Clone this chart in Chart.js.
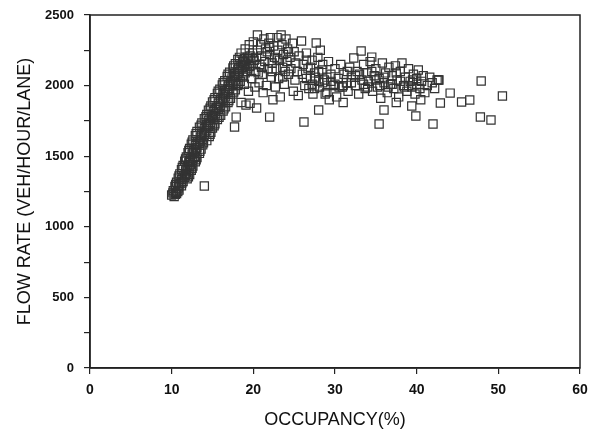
<!DOCTYPE html>
<html>
<head>
<meta charset="utf-8">
<script src="https://cdn.jsdelivr.net/npm/chart.js@4.4.0/dist/chart.umd.min.js"></script>
<style>
  html, body { margin: 0; padding: 0; background: #fff; }
</style>
</head>
<body>
<canvas id="chart" width="589" height="429"></canvas>
<script>
// occupancy (%) / flow rate (veh/hour/lane) in groups

// rising (uncongested) branch
const risingOcc = [
  10.0, 10.3, 10.6, 10.2, 10.5, 10.9, 10.4, 10.8, 11.2, 10.6, 11.0, 11.4,
  10.8, 11.2, 11.6, 11.9, 11.0, 11.5, 11.8, 12.2, 11.2, 11.7, 12.0, 12.4,
  11.4, 11.9, 12.3, 12.6, 11.6, 12.1, 12.5, 12.9, 11.8, 12.3, 12.8, 13.1,
  12.0, 12.5, 12.9, 13.4, 12.2, 12.7, 13.1, 13.6, 12.4, 12.9, 13.4, 13.8,
  12.6, 13.2, 13.7, 14.3, 12.9, 13.5, 14.0, 14.6, 13.1, 13.7, 14.3, 14.8,
  13.4, 14.0, 14.5, 15.0, 13.7, 14.3, 14.8, 15.3, 14.0, 14.5, 15.1, 15.6,
  14.3, 14.9, 15.4, 16.0, 14.5, 15.1, 15.7, 16.3, 14.8, 15.5, 16.0, 16.6,
  15.0, 15.7, 16.3, 16.9, 15.3, 16.0, 16.6, 17.2, 15.6, 16.3, 16.9, 17.5,
  15.9, 16.5, 17.1, 17.8, 16.2, 16.9, 17.5, 18.1, 16.5, 17.2, 17.8, 18.4,
  16.8, 17.4, 18.0, 18.7, 17.1, 17.7, 18.3, 19.0, 17.5, 18.1, 18.7, 19.3,
  17.8, 18.4, 19.0, 18.1, 18.7, 19.4
];
const risingFlow = [
  1225, 1215, 1235, 1255, 1245, 1260, 1285, 1275, 1290, 1315, 1305, 1320,
  1345, 1335, 1350, 1340, 1375, 1365, 1380, 1370, 1405, 1395, 1410, 1400,
  1435, 1425, 1440, 1430, 1465, 1455, 1470, 1460, 1495, 1485, 1500, 1490,
  1525, 1515, 1530, 1520, 1555, 1545, 1560, 1550, 1585, 1575, 1590, 1580,
  1615, 1605, 1620, 1610, 1645, 1635, 1650, 1640, 1675, 1665, 1680, 1670,
  1705, 1695, 1710, 1700, 1735, 1725, 1740, 1730, 1765, 1755, 1770, 1760,
  1795, 1785, 1800, 1790, 1825, 1815, 1830, 1820, 1855, 1845, 1860, 1850,
  1885, 1875, 1890, 1880, 1915, 1905, 1920, 1910, 1945, 1935, 1950, 1940,
  1975, 1965, 1980, 1970, 2005, 1995, 2010, 2000, 2035, 2025, 2040, 2030,
  2065, 2055, 2070, 2060, 2095, 2085, 2100, 2090, 2125, 2115, 2130, 2120,
  2155, 2145, 2160, 2185, 2175, 2190
];

// more points inside the same band
const bandOcc = [
  10.15, 10.45, 10.75, 10.5, 10.85, 11.25, 10.9, 11.3, 11.7, 12.05,
  11.3, 11.75, 12.15, 12.5, 11.7, 12.2, 12.6, 13.0, 12.1, 12.6, 13.0, 13.45,
  12.5, 13.0, 13.5, 13.9, 13.0, 13.6, 14.1, 14.7, 13.6, 14.2, 14.7, 15.2,
  14.2, 14.7, 15.3, 15.8, 14.7, 15.3, 15.9, 16.4, 15.2, 15.8, 16.4, 17.0,
  15.7, 16.3, 17.0, 17.6, 16.3, 17.0, 17.6, 18.2, 16.9, 17.6, 18.2, 18.8,
  17.6, 18.2, 18.9, 19.5, 18.3, 18.9, 19.6
];
const bandFlow = [
  1240, 1230, 1250, 1300, 1290, 1310, 1360, 1350, 1365, 1355,
  1420, 1410, 1425, 1415, 1480, 1470, 1485, 1475, 1540, 1530, 1545, 1535,
  1600, 1590, 1605, 1595, 1660, 1650, 1665, 1655, 1720, 1710, 1725, 1715,
  1780, 1770, 1785, 1775, 1840, 1830, 1845, 1835, 1900, 1890, 1905, 1895,
  1960, 1950, 1965, 1955, 2020, 2010, 2025, 2015, 2080, 2070, 2085, 2075,
  2140, 2130, 2145, 2135, 2200, 2190, 2210
];

// peak around capacity
const peakOcc = [
  18.5, 18.8, 19.0, 19.2, 19.3, 19.5, 19.6, 19.8, 19.9, 20.0, 20.1, 20.3,
  20.5, 20.5, 20.7, 20.8, 20.9, 21.0, 21.1, 21.3, 21.4, 21.5, 21.6, 21.8,
  21.9, 22.0, 22.1, 22.2, 22.3, 22.5, 22.6, 22.7, 22.8, 22.9, 23.0, 23.1,
  23.2, 23.4, 23.5, 23.6, 23.7, 23.8, 24.0, 24.1, 24.2, 24.3, 24.5, 24.6,
  24.8, 24.9, 25.0, 25.1, 25.2, 25.4, 25.5, 25.6, 25.9, 26.0, 26.1, 26.3,
  26.5, 26.7, 27.0, 27.2, 27.5, 27.7, 28.0, 28.2, 28.5,
  18.9, 19.4, 20.2, 21.2, 22.4, 23.3,
  19.7, 20.4, 21.0, 21.7, 22.3, 22.9, 23.6, 24.3, 19.1, 20.6, 22.0, 23.9
];
const peakFlow = [
  2230, 2170, 2260, 2100, 2200, 2290, 2140, 2050, 2230, 2310, 2180, 2100,
  2358, 2250, 2020, 2150, 2290, 2210, 2080, 2330, 2170, 2260, 2000, 2120,
  2300, 2220, 2340, 2060, 2160, 2280, 2200, 1990, 2120, 2340, 2250, 2050,
  2180, 2358, 2290, 2130, 2220, 2010, 2330, 2170, 2260, 2080, 2200, 2120,
  2300, 1960, 2240, 2040, 2160, 2100, 1930, 2210, 2316, 2080, 2150, 2000,
  2230, 2120, 2050, 2180, 1980, 2302, 2100, 2250, 2020,
  2010, 1960, 1990, 1950, 1900, 1920,
  2180, 2200, 2130, 2240, 2100, 2190, 2060, 2240, 2150, 2090, 2270, 2100
];

// congested plateau
const plateauOcc = [
  26.5, 26.8, 27.0, 27.3, 27.6, 27.9, 28.1, 28.4, 28.7, 29.0, 29.2, 29.5,
  29.8, 30.0, 30.2, 30.4, 30.7, 30.9, 31.1, 31.4, 31.6, 31.8, 32.0, 32.3,
  32.5, 32.7, 32.9, 33.2, 33.3, 33.5, 33.7, 33.9, 34.1, 34.3, 34.5, 34.6,
  34.8, 35.0, 35.2, 35.4, 35.6, 35.8, 36.0, 36.2, 36.4, 36.6, 36.8, 37.0,
  37.2, 37.4, 37.6, 37.8, 38.0, 38.2, 38.4, 38.6, 38.8, 39.0, 39.2, 39.4,
  39.6, 39.8, 40.0, 40.2, 40.4, 40.6, 40.8, 41.0, 41.3, 41.6, 41.9, 42.2,
  42.5, 42.7,
  28.0, 29.0, 30.0, 31.0, 32.0, 33.0, 34.0, 35.0, 36.0, 37.0, 38.0, 39.0,
  40.0, 30.5, 31.5, 32.5, 33.5, 34.5, 35.5, 36.5, 37.5, 38.5, 39.5, 29.5,
  28.5, 27.5, 26.5, 27.2, 28.8, 29.3
];
const plateauFlow = [
  2050, 1980, 2130, 1940, 2060, 2200, 1990, 2110, 2040, 1950, 2170, 2080,
  2000, 2120, 1920, 2050, 2150, 1990, 2080, 2020, 1960, 2130, 2060, 2195,
  2000, 2100, 1940, 2245, 2040, 2150, 1980, 2090, 2030, 2170, 2202, 1960,
  2070, 2120, 1990, 2050, 1910, 2160, 2020, 2090, 1950, 2130, 2010, 2070,
  1980, 2140, 2040, 1920, 2100, 2160, 2000, 2060, 1960, 2120, 2030, 1990,
  2080, 1940, 2050, 2110, 1980, 2030, 2070, 1950, 2000, 2060, 2020, 1980,
  2040, 2040,
  2030, 2060, 2010, 2000, 2020, 2080, 1990, 2040, 2060, 2010, 2030, 2000,
  2010, 1990, 2100, 2070, 2010, 2100, 2000, 1990, 2090, 1990, 2040, 2030,
  2150, 2090, 2180, 2010, 1940, 1900
];

// scattered low points
const scatterOcc = [
  14.0, 17.7, 17.9, 19.1, 20.4, 22.0, 18.5, 19.6, 26.2, 28.0, 31.0, 35.4,
  36.0, 37.5, 39.4, 39.9, 40.5, 42.0, 42.9, 42.7, 44.1, 45.5, 46.5, 47.8,
  47.9, 49.1, 50.5
];
const scatterFlow = [
  1289, 1707, 1777, 1862, 1841, 1777, 1880, 1875, 1742, 1827, 1880, 1728,
  1827, 1880, 1855, 1785, 1900, 1728, 1877, 2040, 1947, 1884, 1898, 1778,
  2033, 1756, 1926
];

const xTicks = [0, 10, 20, 30, 40, 50, 60];
const yLabelled = [0, 500, 1000, 1500, 2000, 2500];

function pairs(xs, ys) {
  return xs.map((x, i) => ({x: x, y: ys[i]}));
}

const points = [].concat(
  pairs(risingOcc, risingFlow),
  pairs(bandOcc, bandFlow),
  pairs(peakOcc, peakFlow),
  pairs(plateauOcc, plateauFlow),
  pairs(scatterOcc, scatterFlow)
);

const ink = '#222';
const family = "'Liberation Sans', Arial, sans-serif";

const frame = {
  id: 'frame',
  afterDraw(chart) {
    const ctx = chart.ctx;
    const a = chart.chartArea;
    ctx.save();
    ctx.strokeStyle = ink;
    ctx.lineWidth = 1.5;
    ctx.strokeRect(a.left, a.top, a.right - a.left, a.bottom - a.top);
    ctx.restore();
  }
};

new Chart(document.getElementById('chart'), {
  type: 'scatter',
  data: {
    datasets: [{
      data: points,
      pointStyle: 'rect',
      pointRadius: 5.8,
      pointBorderWidth: 1.2,
      pointBorderColor: '#333',
      pointBackgroundColor: 'rgba(0,0,0,0)'
    }]
  },
  options: {
    responsive: false,
    animation: false,
    layout: {padding: {top: 15, right: 9, left: 0, bottom: 0}},
    plugins: {legend: {display: false}, tooltip: {enabled: false}},
    scales: {
      x: {
        type: 'linear',
        min: 0, max: 60,
        afterBuildTicks: s => { s.ticks = xTicks.map(v => ({value: v})); },
        ticks: {color: '#111', font: {family: family, size: 14, weight: 'bold'}, padding: 8, autoSkip: false, maxRotation: 0},
        grid: {drawOnChartArea: false, tickLength: 6, color: ink, lineWidth: 1.2},
        border: {color: ink, width: 1.5},
        title: {display: true, text: 'OCCUPANCY(%)', color: '#111',
                font: {family: family, size: 18, lineHeight: 1}, padding: {top: 0, bottom: 0}},
        afterFit: s => { s.height = 61; s.paddingLeft = 0; s.paddingRight = 0; }
      },
      y: {
        min: 0, max: 2500,
        ticks: {stepSize: 250, autoSkip: false, color: '#111',
                font: {family: family, size: 13, weight: 'bold'}, padding: 10,
                callback: v => yLabelled.includes(v) ? v : ''},
        grid: {drawOnChartArea: false, tickLength: 6, color: ink, lineWidth: 1.2},
        border: {color: ink, width: 1.5},
        title: {display: true, text: 'FLOW RATE (VEH/HOUR/LANE)', color: '#111',
                font: {family: family, size: 18, lineHeight: 1}, padding: {top: 16, bottom: 0}},
        afterFit: s => { s.width = 90; s.paddingTop = 0; s.paddingBottom = 0; }
      }
    }
  },
  plugins: [frame]
});
</script>
</body>
</html>
